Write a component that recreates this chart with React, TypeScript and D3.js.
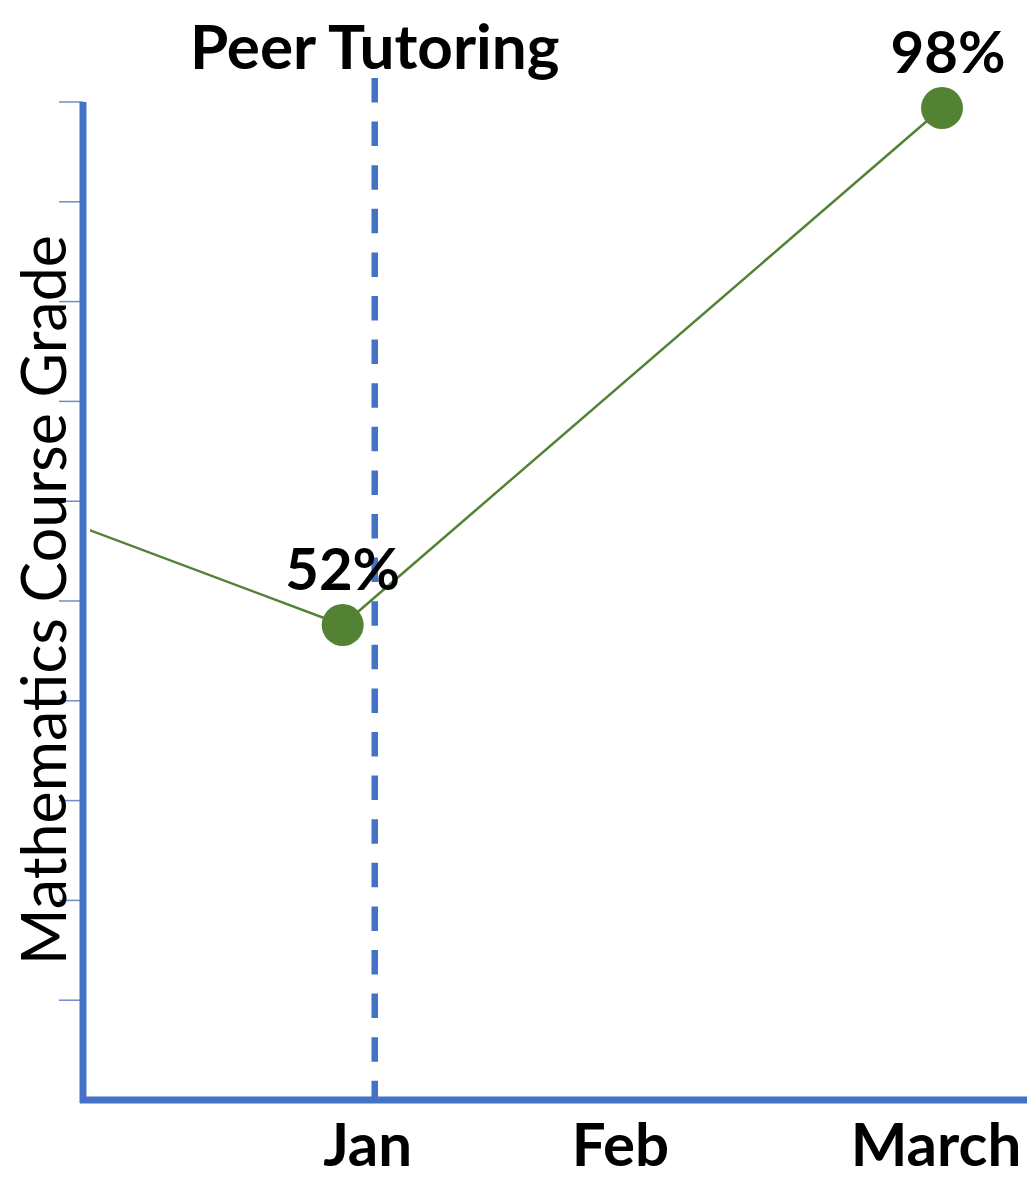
import React from "react";
import * as d3 from "d3";

// Months on the x axis; December sits left of the axis and is clipped away.
const months = ["Dec", "Jan", "Feb", "March"];
const monthLabels = ["Jan", "Feb", "March"];
// Course grade (%) per recorded month.
const gradeMonths = ["Dec", "Jan", "March"];
const gradeValues = [62, 52, 98];
const labelledMonths = ["Jan", "March"];
// Peer tutoring begins shortly after the January grade (month index units).
const tutoringStart = 1.107;
const yTickCount = 10;

const W = 1027;
const H = 1183;
const axisX = 83;
const axisTop = 102;
const axisBottom = 1100;

const FONT = "Lato, 'Open Sans', sans-serif";
const BLUE = "#4472C4";
const GREEN = "#548235";

export default function App() {
  const x = d3.scaleLinear().domain([0, months.length - 1]).range([43, 942]);
  const xOf = (m: string) => x(months.indexOf(m));
  const y = d3.scaleLinear().domain([52, 98]).range([625, 108]);
  const tickY = d3.scaleLinear().domain([0, yTickCount]).range([axisBottom, axisTop]);

  const points = gradeMonths.map((m, i) => ({ m, v: gradeValues[i] }));
  const line = d3
    .line<{ m: string; v: number }>()
    .x((d) => xOf(d.m))
    .y((d) => y(d.v));

  // Category labels are nudged off the point positions, as in the original slide.
  const labelNudge: Record<string, number> = { Jan: 25, Feb: -22, March: -6 };
  const tutorX = x(tutoringStart);

  return (
    <svg
      width={W}
      height={H}
      style={{ position: "absolute", left: 0, top: 0, background: "#fff" }}
      fontFamily={FONT}
    >
      <defs>
        <clipPath id="plot-clip">
          <rect x={axisX + 7} y={0} width={W} height={H} />
        </clipPath>
      </defs>

      {/* y ticks */}
      {d3.range(1, yTickCount + 1).map((i) => (
        <line
          key={i}
          x1={axisX - 24}
          x2={axisX}
          y1={tickY(i)}
          y2={tickY(i)}
          stroke="#6F8CC8"
          strokeWidth={1.5}
        />
      ))}

      {/* tutoring marker */}
      <line
        x1={tutorX}
        x2={tutorX}
        y1={78}
        y2={axisBottom}
        stroke={BLUE}
        strokeWidth={6.5}
        strokeDasharray="24.5 19.1"
      />

      {/* axes */}
      <line x1={axisX} x2={axisX} y1={axisTop} y2={axisBottom + 3} stroke={BLUE} strokeWidth={7} />
      <line x1={axisX - 3} x2={W} y1={axisBottom} y2={axisBottom} stroke={BLUE} strokeWidth={7} />

      {/* grade line */}
      <path
        d={line(points) ?? ""}
        fill="none"
        stroke={GREEN}
        strokeWidth={2.5}
        clipPath="url(#plot-clip)"
      />
      {points
        .filter((p) => labelledMonths.includes(p.m))
        .map((p) => (
          <circle key={p.m} cx={xOf(p.m)} cy={y(p.v)} r={21} fill={GREEN} />
        ))}

      {/* value labels */}
      {points
        .filter((p) => labelledMonths.includes(p.m))
        .map((p) => (
          <text
            key={p.m}
            x={xOf(p.m) + (p.m === "March" ? 6 : 0)}
            y={y(p.v) - 35}
            textAnchor="middle"
            fontSize={58}
            fontWeight={700}
            fill="#000"
          >
            {p.v}%
          </text>
        ))}

      {/* month labels */}
      {monthLabels.map((m) => (
        <text
          key={m}
          x={xOf(m) + labelNudge[m]}
          y={1166}
          textAnchor="middle"
          fontSize={60}
          fontWeight={700}
          fill="#000"
        >
          {m}
        </text>
      ))}

      {/* title over the tutoring marker */}
      <text x={tutorX} y={69} textAnchor="middle" fontSize={62} fontWeight={700} fill="#000">
        Peer Tutoring
      </text>

      {/* y axis title */}
      <text
        transform={`translate(66, 600) rotate(-90)`}
        textAnchor="middle"
        fontSize={61}
        fill="#000"
      >
        Mathematics Course Grade
      </text>
    </svg>
  );
}
